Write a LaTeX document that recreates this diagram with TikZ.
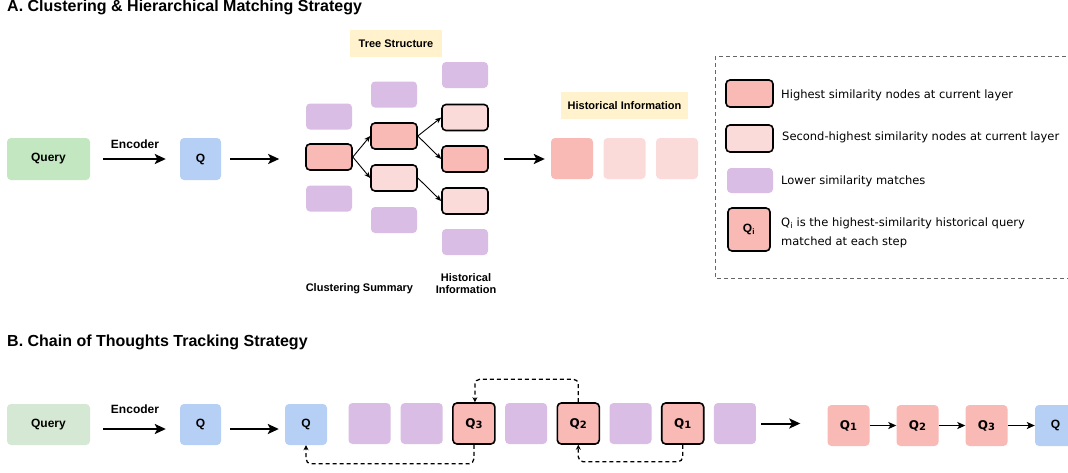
\documentclass[tikz,border=0pt]{standalone}
\usepackage{fontspec}
\newfontfamily\arialfont{Liberation Sans}
\newfontfamily\verdfont{DejaVu Sans}
\usetikzlibrary{arrows.meta}

\definecolor{hicol}{HTML}{F9B9B5}
\definecolor{midcol}{HTML}{FADBD9}
\definecolor{lowcol}{HTML}{D9BDE4}
\definecolor{qcol}{HTML}{B6CFF5}
\definecolor{querya}{HTML}{C3E7C0}
\definecolor{queryb}{HTML}{D5E8D4}
\definecolor{notecol}{HTML}{FFF2CC}

\newcommand{\qnum}[1]{Q\raisebox{-0.2ex}{\fontsize{10}{10}\selectfont #1}}

\begin{document}
\begin{tikzpicture}[x=1pt, y=-1pt,
    blk/.style={rounded corners=4pt, inner sep=0pt, font=\arialfont\bfseries\fontsize{12}{14}\selectfont},
    bar/.style={blk, minimum width=46pt, minimum height=26pt},
    sq/.style={blk, minimum width=42pt, minimum height=41pt},
    edged/.style={draw=black, line width=1.6pt},
    note/.style={fill=notecol, inner sep=0pt, font=\arialfont\bfseries\fontsize{11}{13}\selectfont},
    caption/.style={font=\arialfont\bfseries\fontsize{11}{13}\selectfont, align=center},
    heading/.style={anchor=base west, inner sep=0pt, font=\arialfont\bfseries\fontsize{16}{19}\selectfont},
    legtext/.style={anchor=west, inner sep=0pt, font=\verdfont\fontsize{11.5}{19}\selectfont, align=left},
    bigarrow/.style={line width=2pt, -{Stealth[length=11pt, width=10pt, inset=2.5pt]}},
    thinarrow/.style={line width=0.9pt, -{Stealth[length=6pt, width=5pt, inset=1.5pt]}},
    chainarrow/.style={line width=1.5pt, -{Stealth[length=8pt, width=7pt, inset=2pt]}},
    backloop/.style={line width=1.3pt, dash pattern=on 4pt off 3pt, rounded corners=5pt,
        -{Stealth[length=5pt, width=5pt]}}
]
    \useasboundingbox (0,0) rectangle (1068,472);

    % A. titles and input
    \node (titleA) at (7,11) [heading] {A. Clustering \& Hierarchical Matching Strategy};
    \node (queryA) at (48.5,159) [blk, fill=querya, minimum width=83pt, minimum height=42pt] {Query};
    \node (qA) at (200.5,159) [blk, fill=qcol, minimum width=41pt, minimum height=42pt] {Q};
    \draw[bigarrow, shorten <=13pt, shorten >=14pt] (queryA) -- (qA)
        node[midway, above=9pt, blk] {Encoder};

    % Tree structure
    \node (treenote) at (396,43.5) [note, minimum width=92pt, minimum height=27pt] {Tree Structure};
    \node (c1) at (329,116.5) [bar, fill=lowcol] {};
    \node (c2) at (329,157) [bar, fill=hicol, edged] {};
    \node (c3) at (329,198.5) [bar, fill=lowcol] {};
    \node (s1) at (394,94.5) [bar, fill=lowcol] {};
    \node (s2) at (394,136) [bar, fill=hicol, edged] {};
    \node (s3) at (394,178) [bar, fill=midcol, edged] {};
    \node (s4) at (394,220) [bar, fill=lowcol] {};
    \node (h1) at (465,75) [bar, fill=lowcol] {};
    \node (h2) at (465,117.5) [bar, fill=midcol, edged] {};
    \node (h3) at (465,159) [bar, fill=hicol, edged] {};
    \node (h4) at (465,201) [bar, fill=midcol, edged] {};
    \node (h5) at (465,242) [bar, fill=lowcol] {};
    \draw[thinarrow] (c2.east) -- (s2.west);
    \draw[thinarrow] (c2.east) -- (s3.west);
    \draw[thinarrow] (s2.east) -- (h2.west);
    \draw[thinarrow] (s2.east) -- (h3.west);
    \draw[thinarrow] (s3.east) -- (h4.west);
    \draw[bigarrow, shorten <=9pt, shorten >=26pt] (qA.east) -- (c2.west |- qA.east);

    \node (capC) at (333,289) [caption] {Clustering};
    \node (capS) at (388,289) [caption] {Summary};
    \node (capH) at (466,283.5) [caption] {Historical\\[-1pt]Information};

    % Historical information
    \node (histnote) at (624.5,105.5) [note, minimum width=127pt, minimum height=27pt] {Historical Information};
    \node (r1) at (572,158.5) [sq, fill=hicol] {};
    \node (r2) at (624.5,158.5) [sq, fill=midcol] {};
    \node (r3) at (677,158.5) [sq, fill=midcol] {};
    \draw[bigarrow, shorten <=15pt, shorten >=6pt] (h3.east) -- (r1.west |- h3.east);

    % Legend
    \draw[gray!80!black, line width=1pt, dash pattern=on 4pt off 3pt] (715,56) rectangle (1085,278);
    \node (lg1) at (749.5,93.5) [bar, minimum width=47pt, minimum height=27pt, fill=hicol, edged] {};
    \node (lg2) at (749.5,138.5) [bar, minimum width=47pt, minimum height=27pt, fill=midcol, edged] {};
    \node (lg3) at (750,180.5) [bar, minimum height=25pt, fill=lowcol] {};
    \node (lg4) at (749,229.5) [blk, minimum width=42pt, minimum height=43pt, fill=hicol, edged] {Q\textsubscript{i}};
    \node (lt1) at (781,95) [legtext] {Highest similarity nodes at current layer};
    \node (lt2) at (782,137) [legtext] {Second-highest similarity nodes at current layer};
    \node (lt3) at (781,181) [legtext] {Lower similarity matches};
    \node (lt4) at (781,232.5) [legtext] {Q\textsubscript{i} is the highest-similarity historical query\\matched at each step};

    % B. chain of thoughts
    \node (titleB) at (7,346) [heading] {B. Chain of Thoughts Tracking Strategy};
    \node (queryB) at (48.5,424.5) [sq, fill=queryb, minimum width=83pt] {Query};
    \node (qB) at (200.5,424.5) [sq, fill=qcol, minimum width=41pt] {Q};
    \node (qC) at (306,424.5) [sq, fill=qcol] {Q};
    \draw[bigarrow, shorten <=13pt, shorten >=14pt] ([yshift=-4.5pt]queryB.east) -- ([yshift=-4.5pt]qB.west)
        node[midway, above=14pt, blk] {Encoder};
    \draw[bigarrow, shorten <=9pt, shorten >=6pt] ([yshift=-4.5pt]qB.east) -- ([yshift=-4.5pt]qC.west);

    % history row
    \foreach \name/\x in {p1/369.5, p2/421.7, p3/526.1, p4/630.5, p5/734.9}
        \node (\name) at (\x,423.5) [sq, fill=lowcol] {};
    \node (t3) at (473.9,423.5) [sq, fill=hicol, edged, font=\verdfont\bfseries\fontsize{12}{14}\selectfont] {\qnum{3}};
    \node (t2) at (578.3,423.5) [sq, fill=hicol, edged, font=\verdfont\bfseries\fontsize{12}{14}\selectfont] {\qnum{2}};
    \node (t1) at (682.7,423.5) [sq, fill=hicol, edged, font=\verdfont\bfseries\fontsize{12}{14}\selectfont] {\qnum{1}};
    \draw[backloop] (t2.north) -- ++(0,-23) -| ([xshift=1pt]t3.north);
    \draw[backloop] (t3.south) -- ++(0,19) -| (qC.south);
    \draw[backloop] (t1.south) -- ++(0,17) -| (t2.south);

    % tracked chain
    \node (f1) at (848.5,425.5) [sq, fill=hicol, font=\verdfont\bfseries\fontsize{12}{14}\selectfont] {\qnum{1}};
    \node (f2) at (917.5,425.5) [sq, fill=hicol, font=\verdfont\bfseries\fontsize{12}{14}\selectfont] {\qnum{2}};
    \node (f3) at (986.5,425.5) [sq, fill=hicol, font=\verdfont\bfseries\fontsize{12}{14}\selectfont] {\qnum{3}};
    \node (fq) at (1055.5,425.5) [sq, fill=qcol, minimum width=41pt] {Q};
    \draw[bigarrow, shorten <=5pt, shorten >=27pt] (p5.east) -- (f1.west |- p5.east);
    \draw[chainarrow] (f1) -- (f2);
    \draw[chainarrow] (f2) -- (f3);
    \draw[chainarrow] (f3) -- (fq);
\end{tikzpicture}
\end{document}
